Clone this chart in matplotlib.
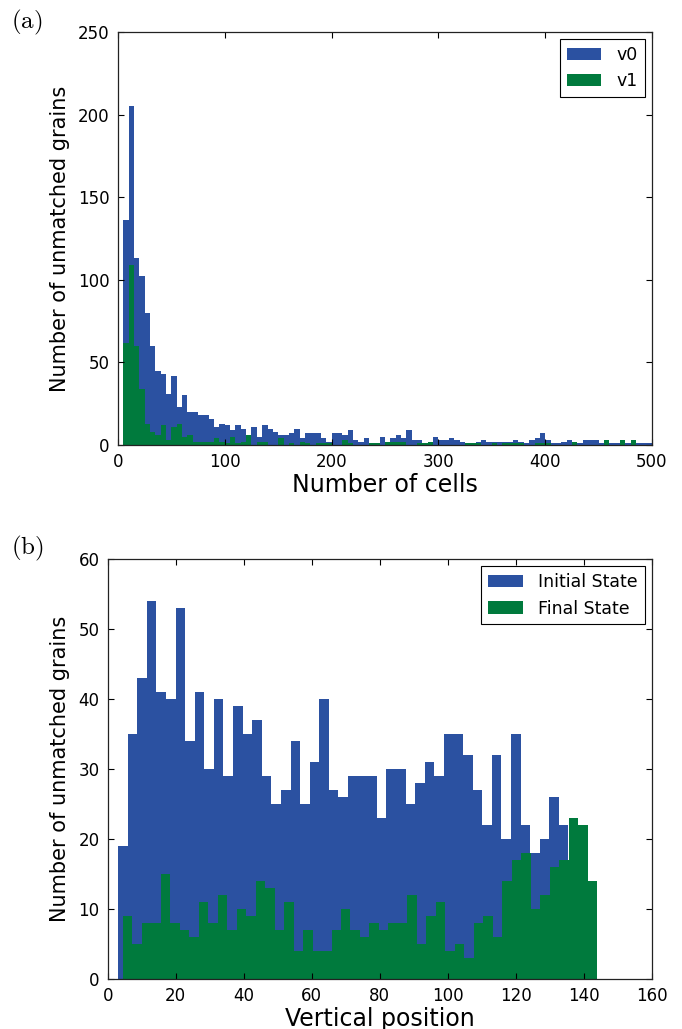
import numpy as np
import matplotlib
matplotlib.use("Agg")
import matplotlib.pyplot as plt

plt.rcParams['font.family'] = ['DejaVu Sans']
plt.rcParams['mathtext.fontset'] = 'cm'

BLUE = "#2b51a1"
GREEN = "#007a3d"

# (a) grains vs number of cells, bins of 5 from 5 to 500
cells_edges = np.arange(5, 501, 5)
v0_counts = [136, 205, 113, 102, 80, 60, 45, 43, 31, 42,
             23, 30, 20, 20, 18, 18, 16, 11, 13, 12,
             9, 12, 10, 5, 11, 5, 12, 10, 8, 6,
             6, 7, 10, 4, 7, 7, 7, 4, 2, 7,
             7, 6, 9, 3, 2, 4, 1, 1, 5, 2,
             4, 6, 4, 9, 3, 3, 1, 2, 5, 3,
             3, 4, 3, 2, 1, 1, 2, 3, 2, 2,
             2, 2, 2, 3, 2, 1, 3, 4, 7, 3,
             1, 1, 2, 3, 2, 1, 3, 3, 3, 1,
             3, 1, 1, 3, 1, 3, 1, 1, 1]
v1_counts = [62, 109, 60, 34, 13, 8, 6, 12, 3, 11,
             13, 5, 6, 2, 2, 2, 2, 4, 2, 1,
             5, 1, 2, 6, 0, 2, 2, 0, 0, 4,
             0, 1, 0, 2, 1, 0, 1, 1, 1, 0,
             0, 3, 1, 0, 0, 0, 1, 1, 0, 2,
             2, 2, 2, 0, 0, 1, 1, 2, 0, 0,
             0, 0, 0, 0, 1, 1, 1, 0, 0, 1,
             0, 1, 1, 1, 1, 0, 0, 1, 1, 1,
             0, 0, 0, 0, 2, 0, 0, 0, 0, 0,
             3, 0, 0, 3, 0, 3, 0, 0, 0]

# (b) grains vs vertical position, 50 bins each over its own data range
init_range = (3.03, 143.9)
final_range = (4.4, 143.9)
init_counts = [19, 35, 43, 54, 41, 40, 53, 34, 41, 30,
               40, 29, 39, 35, 37, 29, 25, 27, 34, 25,
               31, 40, 27, 26, 29, 29, 29, 23, 30, 30,
               25, 28, 31, 29, 35, 35, 32, 27, 22, 32,
               20, 35, 22, 18, 20, 26, 22, 15, 12, 9]
final_counts = [9, 5, 8, 8, 15, 8, 7, 6, 11, 8,
                12, 7, 10, 9, 14, 13, 7, 11, 4, 7,
                4, 4, 7, 10, 7, 6, 8, 7, 8, 8,
                12, 5, 9, 11, 4, 5, 3, 8, 9, 6,
                14, 17, 18, 10, 12, 16, 17, 23, 22, 14]


def draw_hist(ax, edges, counts, color, label):
    edges = np.asarray(edges)
    ax.hist(edges[:-1], bins=edges, weights=counts, color=color,
            label=label, histtype='stepfilled', linewidth=0)


def style_axes(ax):
    ax.tick_params(direction='in', top=True, right=True, length=4,
                   width=0.8, labelsize=12, pad=6)
    for s in ax.spines.values():
        s.set_linewidth(0.9)
        s.set_color('#222222')


def add_legend(ax):
    leg = ax.legend(loc='upper right', fontsize=12.5, fancybox=False,
                    edgecolor='black', framealpha=1, handlelength=2.0,
                    borderpad=0.4, labelspacing=0.5, handletextpad=0.9,
                    borderaxespad=0.4)
    leg.get_frame().set_linewidth(0.8)


fig = plt.figure(figsize=(6.82, 10.29), dpi=100)

ax1 = fig.add_axes([0.173, 0.5675, 0.783, 0.4015])
draw_hist(ax1, cells_edges, v0_counts, BLUE, 'v0')
draw_hist(ax1, cells_edges, v1_counts, GREEN, 'v1')
ax1.set_xlim(0, 500)
ax1.set_ylim(0, 250)
ax1.set_xticks(range(0, 501, 100))
ax1.set_yticks(range(0, 251, 50))
ax1.set_xlabel('Number of cells', fontsize=17, labelpad=1)
ax1.set_ylabel('Number of unmatched grains', fontsize=15, labelpad=6)
style_axes(ax1)
add_legend(ax1)
fig.text(0.016, 0.9786, r'$\mathrm{(a)}$', fontsize=18, va='center')

ax2 = fig.add_axes([0.158, 0.0486, 0.798, 0.4082])
init_edges = np.linspace(init_range[0], init_range[1], len(init_counts) + 1)
final_edges = np.linspace(final_range[0], final_range[1], len(final_counts) + 1)
draw_hist(ax2, init_edges, init_counts, BLUE, 'Initial State')
draw_hist(ax2, final_edges, final_counts, GREEN, 'Final State')
ax2.set_xlim(0, 160)
ax2.set_ylim(0, 60)
ax2.set_xticks(range(0, 161, 20))
ax2.set_yticks(range(0, 61, 10))
ax2.set_xlabel('Vertical position', fontsize=17, labelpad=1)
ax2.set_ylabel('Number of unmatched grains', fontsize=15, labelpad=6)
style_axes(ax2)
add_legend(ax2)
fig.text(0.016, 0.4674, r'$\mathrm{(b)}$', fontsize=18, va='center')

fig.savefig('out.png', dpi=100)
